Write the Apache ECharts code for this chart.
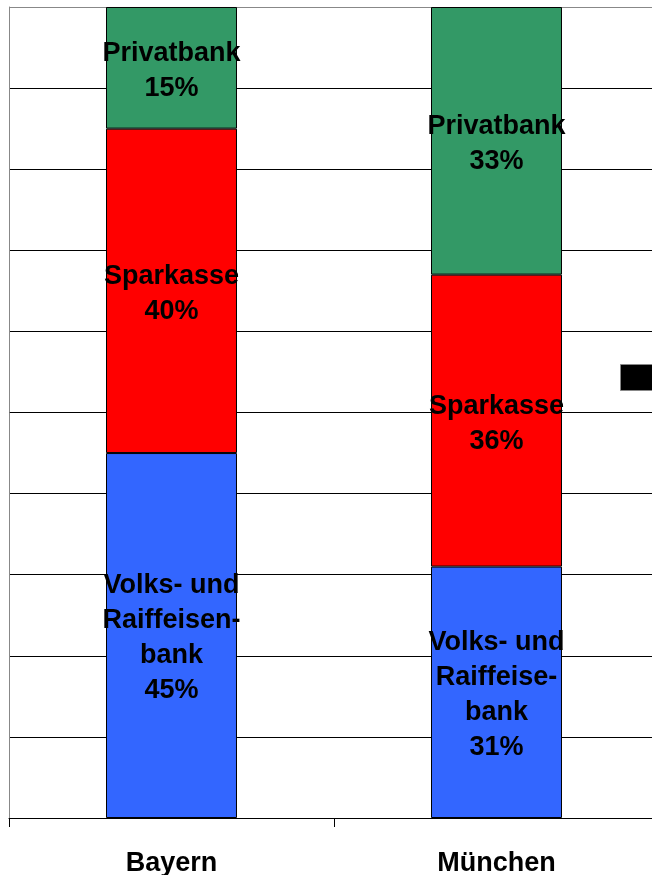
<!DOCTYPE html>
<html>
<head>
<meta charset="utf-8">
<script src="https://cdn.jsdelivr.net/npm/echarts@6/dist/echarts.min.js"></script>
<style>
  html, body { margin: 0; padding: 0; background: #fff; }
  #chart { width: 652px; height: 875px; }
</style>
</head>
<body>
<div id="chart"></div>
<script>
// Market shares of banking groups (percent of total)
const categories = ['Bayern', 'München'];
const volksValues = [45, 31];
const sparkValues = [40, 36];
const privatValues = [15, 33];

// Label texts per bar segment
const volksNames = ['Volks- und\nRaiffeisen-\nbank', 'Volks- und\nRaiffeise-\nbank'];
const sparkNames = ['Sparkasse', 'Sparkasse'];
const privatNames = ['Privatbank', 'Privatbank'];

const FONT = '"Liberation Sans", Arial, sans-serif';

function segmentLabel(names) {
  return {
    show: true,
    position: 'inside',
    offset: [0, 3],
    color: '#000',
    fontFamily: FONT,
    fontWeight: 'bold',
    fontSize: 27,
    lineHeight: 35,
    align: 'center',
    formatter: p => names[p.dataIndex] + '\n' + p.value + '%'
  };
}

function segment(name, values, names, color) {
  return {
    name: name,
    type: 'bar',
    stack: 'total',
    barWidth: '40.3%',
    data: values,
    itemStyle: { color: color, borderColor: '#000', borderWidth: 1 },
    label: segmentLabel(names),
    emphasis: { disabled: true }
  };
}

// Gridline colours: inner lines black, top border gray
const gridColors = ['#000', '#000', '#000', '#000', '#000', '#000', '#000', '#000', '#000', '#000', '#888'];

const chart = echarts.init(document.getElementById('chart'), null, { renderer: 'canvas' });
chart.setOption({
  animation: false,
  backgroundColor: '#fff',
  // plot area runs a little past the right edge of the page
  grid: {
    left: 9, top: 7, width: 650, height: 811,
    containLabel: false,
    outerBoundsMode: 'none'
  },
  xAxis: {
    type: 'category',
    data: categories,
    axisLine: { show: true, lineStyle: { color: '#000', width: 1 } },
    axisTick: { show: true, length: 9, alignWithLabel: false, lineStyle: { color: '#000' } },
    axisLabel: {
      margin: 32,
      color: '#000',
      fontFamily: FONT,
      fontWeight: 'bold',
      fontSize: 27
    }
  },
  yAxis: {
    type: 'value',
    min: 0,
    max: 100,
    interval: 10,
    axisLabel: { show: false },
    axisTick: { show: false },
    axisLine: { show: true, lineStyle: { color: '#888', width: 1 } },
    splitLine: { show: true, lineStyle: { color: gridColors, width: 1 } }
  },
  graphic: [{
    type: 'rect',
    left: 620,
    top: 364,
    shape: { width: 40, height: 26 },
    style: { fill: '#000', stroke: '#888', lineWidth: 1 }
  }],
  series: [
    segment('Volks- und Raiffeisenbank', volksValues, volksNames, '#3366FF'),
    segment('Sparkasse', sparkValues, sparkNames, '#FF0000'),
    segment('Privatbank', privatValues, privatNames, '#339966')
  ]
});
</script>
</body>
</html>
